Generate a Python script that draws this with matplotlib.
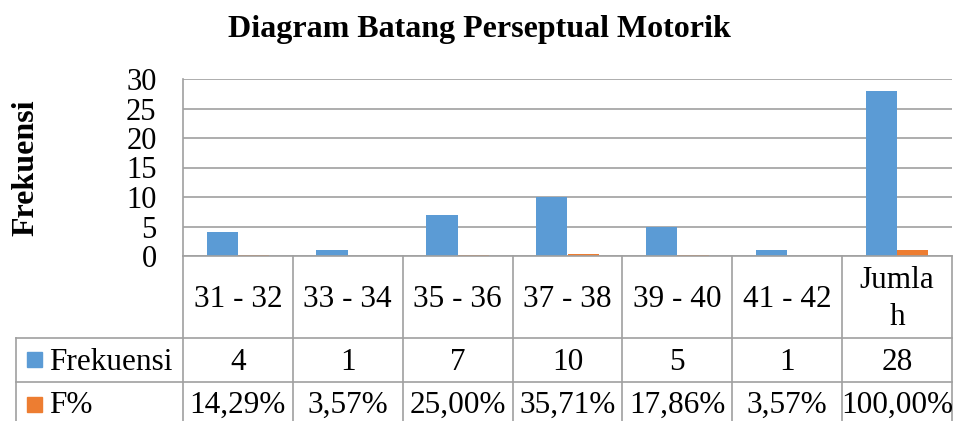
import matplotlib.pyplot as plt
import numpy as np

# ====== Data ======
categories = ["31 - 32", "33 - 34", "35 - 36", "37 - 38", "39 - 40", "41 - 42", "Jumla\nh"]
frekuensi = [4, 1, 7, 10, 5, 1, 28]
f_persen = [0.1429, 0.0357, 0.25, 0.3571, 0.1786, 0.0357, 1.0]
frek_labels = ["4", "1", "7", "10", "5", "1", "28"]
persen_labels = ["14,29%", "3,57%", "25,00%", "35,71%", "17,86%", "3,57%", "100,00%"]
yticks = [0, 5, 10, 15, 20, 25, 30]

BLUE = "#5B9BD5"
ORANGE = "#ED7D31"
GRID = "#A0A0A0"
FS = 22.5

plt.rcParams["font.family"] = ["Liberation Serif", "DejaVu Serif"]

W, H = 959, 421
fig = plt.figure(figsize=(W / 100, H / 100), dpi=100)

# plot area in pixels
px_l, px_r, px_t, px_b = 183, 952, 79, 256
ax = fig.add_axes([px_l / W, 1 - px_b / H, (px_r - px_l) / W, (px_b - px_t) / H])

x = np.arange(len(categories))
bw = 0.285
ax.bar(x - bw / 2, frekuensi, bw, color=BLUE, zorder=3)
ax.bar(x + bw / 2, f_persen, bw, color=ORANGE, zorder=3)

ax.set_xlim(-0.5, len(categories) - 0.5)
ax.set_ylim(0, 30)
ax.set_yticks(yticks)
ax.set_yticklabels([str(v) for v in yticks], fontsize=22)
ax.tick_params(axis="y", length=0, pad=19)
ax.set_xticks([])
ax.grid(axis="y", color=GRID, linewidth=1.2, zorder=0)
for s in ["top", "right", "bottom"]:
    ax.spines[s].set_visible(False)
ax.spines["left"].set_color(GRID)
ax.spines["left"].set_linewidth(1.2)

fig.text(26 / W, 1 - 168 / H, "Frekuensi", rotation=90, fontsize=23,
         fontweight="bold", ha="center", va="center")
fig.text(479 / W, 1 - 37 / H, "Diagram Batang Perseptual Motorik",
         fontsize=23, fontweight="bold", ha="center", va="baseline")

# ====== Data table ======
tb_l = 16
cw = (px_r - px_l) / len(categories)
x0 = -0.5 - (px_l - tb_l) / cw
axt = fig.add_axes([tb_l / W, 0, (px_r - tb_l) / W, (H - px_b) / H])
axt.set_xlim(x0, len(categories) - 0.5)
axt.set_ylim(H, px_b)
axt.axis("off")

r1, r2 = 338, 382
lc = dict(color=GRID, linewidth=1.2, clip_on=False)
axt.plot([-0.5, len(categories) - 0.5], [px_b, px_b], **lc)
for k in range(len(categories) + 1):
    axt.plot([k - 0.5, k - 0.5], [px_b, H], **lc)
axt.plot([x0, x0], [r1, H], **lc)
axt.plot([x0, len(categories) - 0.5], [r1, r1], **lc)
axt.plot([x0, len(categories) - 0.5], [r2, r2], **lc)

for i, c in enumerate(categories):
    axt.text(i, 299, c, fontsize=FS, ha="center", va="center", linespacing=1.35)
    axt.text(i, 370, frek_labels[i], fontsize=FS, ha="center", va="baseline")
    axt.text(i, 413, persen_labels[i], fontsize=FS, ha="center", va="baseline")

sq = 15 / cw
axt.add_patch(plt.Rectangle((x0 + 11 / cw, 352), sq, 15, color=BLUE, clip_on=False))
axt.add_patch(plt.Rectangle((x0 + 11 / cw, 397), sq, 15, color=ORANGE, clip_on=False))
axt.text(x0 + 33 / cw, 370, "Frekuensi", fontsize=FS, ha="left", va="baseline")
axt.text(x0 + 33 / cw, 413, "F%", fontsize=FS, ha="left", va="baseline")

fig.savefig("out.png", dpi=100)
